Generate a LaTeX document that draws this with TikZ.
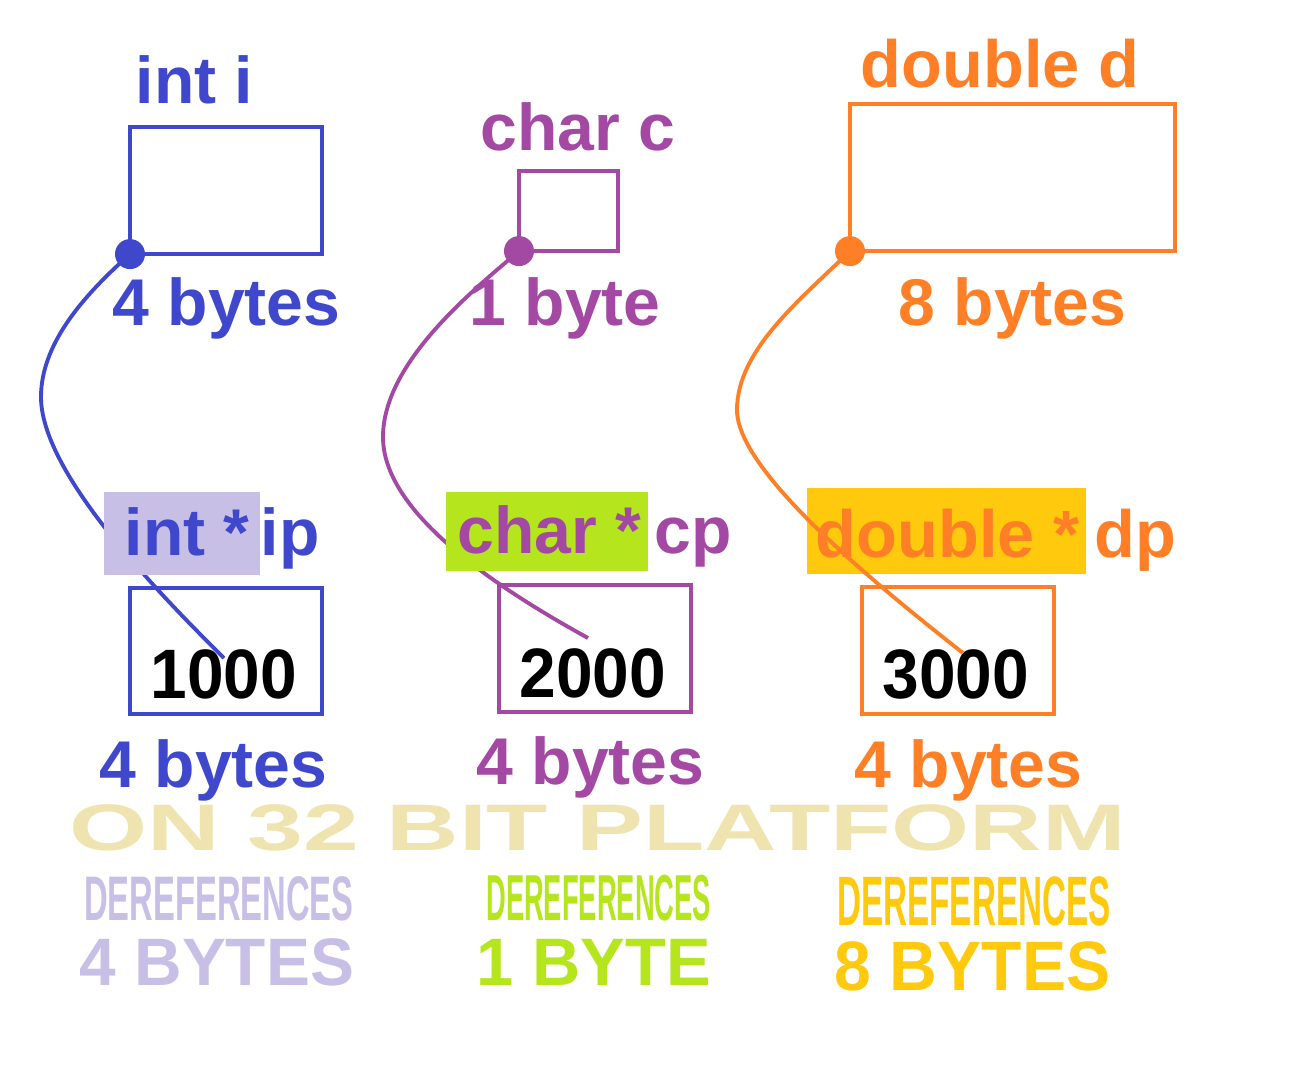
\documentclass[tikz,border=0pt]{standalone}
\usepackage{fontspec}
\setmainfont{Liberation Sans}
\usepackage{xcolor}
\usepackage{tikz}
\definecolor{intc}{HTML}{3F48CC}
\definecolor{charc}{HTML}{A349A4}
\definecolor{dblc}{HTML}{FF7F27}
\definecolor{lav}{HTML}{C8BFE7}
\definecolor{lime}{HTML}{B5E61D}
\definecolor{gold}{HTML}{FFC90E}
\definecolor{tan}{HTML}{EFE4B0}
\newcommand{\lblfont}{\bfseries\fontsize{18.8}{20}\selectfont}

\begin{document}
\begin{tikzpicture}[x=0.01cm,y=-0.01cm,
  lbl/.style={anchor=base west,inner sep=0pt,font=\lblfont},
  membox/.style={draw,line width=1.1pt,anchor=north west,inner sep=0pt,outer sep=0pt},
  wire/.style={line width=1.1pt},
  big/.style={anchor=base west,inner sep=0pt,font=\bfseries\fontsize{#1}{#1}\selectfont}]
\useasboundingbox (0,0) rectangle (1302,1072);
%\draw[help lines] (0,0) grid[step=100] (1302,1072);
\node[membox,draw=intc,minimum width=1.92cm,minimum height=1.27cm] (ibox) at (130,127) {};
\node[membox,draw=charc,minimum width=0.99cm,minimum height=0.80cm] (cbox) at (519,171) {};
\node[membox,draw=dblc,minimum width=3.25cm,minimum height=1.47cm] (dbox) at (850,104) {};
\node[lbl,text=intc] (ilab) at (135,103) {int i};
\node[lbl,text=charc] (clab) at (480,150) {char c};
\node[lbl,text=dblc,font=\bfseries\fontsize{19}{20}\selectfont] (dlab) at (860,87) {double d};
\node[lbl,text=intc] (isize) at (112,325) {4 bytes};
\node[lbl,text=charc] (csize) at (469,325) {1 byte};
\node[lbl,text=dblc] (dsize) at (898,325) {8 bytes};
\node[membox,draw=intc,minimum width=1.92cm,minimum height=1.26cm] (ipbox) at (130,588) {};
\node[membox,draw=charc,minimum width=1.92cm,minimum height=1.27cm] (cpbox) at (499,585) {};
\node[membox,draw=dblc,minimum width=1.92cm,minimum height=1.27cm] (dpbox) at (862,587) {};
\node[big=19.9,xscale=0.94] (ipval) at (150,698) {1000};
\node[big=19.9,xscale=0.94] (cpval) at (519,697) {2000};
\node[big=19.9,xscale=0.94] (dpval) at (882,698) {3000};
\coordinate (iend) at (224,658);
\coordinate (cend) at (588,638);
\coordinate (dend) at (963,653);
\draw[wire,intc] (ibox.south west) .. controls (90,290) and (41,340) .. (41,397)
  .. controls (41,470) and (150,585) .. (iend);
\draw[wire,charc] (cbox.south west) .. controls (480,285) and (383,360) .. (383,437)
  .. controls (383,510) and (488,583) .. (cend);
\fill[lav] (104,492) rectangle (260,575);
\fill[lime] (446,492) rectangle (648,571);
\fill[gold] (807,488) rectangle (1086,574);
\draw[wire,dblc] (dbox.south west) .. controls (800,300) and (737,350) .. (737,410)
  .. controls (737,470) and (870,580) .. (dend);
\fill[intc] (ibox.south west) circle (15);
\fill[charc] (cbox.south west) circle (15);
\fill[dblc] (dbox.south west) circle (15);
\node[lbl,text=intc] (istar) at (124,555) {int *};
\node[lbl,text=intc] (iname) at (260,555) {ip};
\node[lbl,text=charc] (cstar) at (457,553) {char *};
\node[lbl,text=charc] (cname) at (654,553) {cp};
\node[lbl,text=dblc,font=\bfseries\fontsize{19}{20}\selectfont] (dstar) at (815,557) {double *};
\node[lbl,text=dblc,font=\bfseries\fontsize{19}{20}\selectfont] (dname) at (1094,557) {dp};
\node[lbl,text=intc] (ipsize) at (99,787) {4 bytes};
\node[lbl,text=charc] (cpsize) at (476,784) {4 bytes};
\node[lbl,text=dblc] (dpsize) at (854,787) {4 bytes};
\node[big=18.7,text=tan,xscale=1.525] (platform) at (68,850) {ON 32 BIT PLATFORM};
\node[big=17.9,text=lav,xscale=0.52] (ideref) at (84,920) {DEREFERENCES};
\node[big=18.5,text=lime,xscale=0.42] (cderef) at (486,920) {DEREFERENCES};
\node[big=19.9,text=gold,xscale=0.475] (dderef) at (837,925) {DEREFERENCES};
\node[big=19.1,text=lav,xscale=0.98] (ibytes) at (79,985) {4 BYTES};
\node[big=19.1,text=lime,xscale=0.995] (cbytes) at (476,985) {1 BYTE};
\node[big=19.9,text=gold,xscale=0.945] (dbytes) at (834,990) {8 BYTES};
\end{tikzpicture}
\end{document}
